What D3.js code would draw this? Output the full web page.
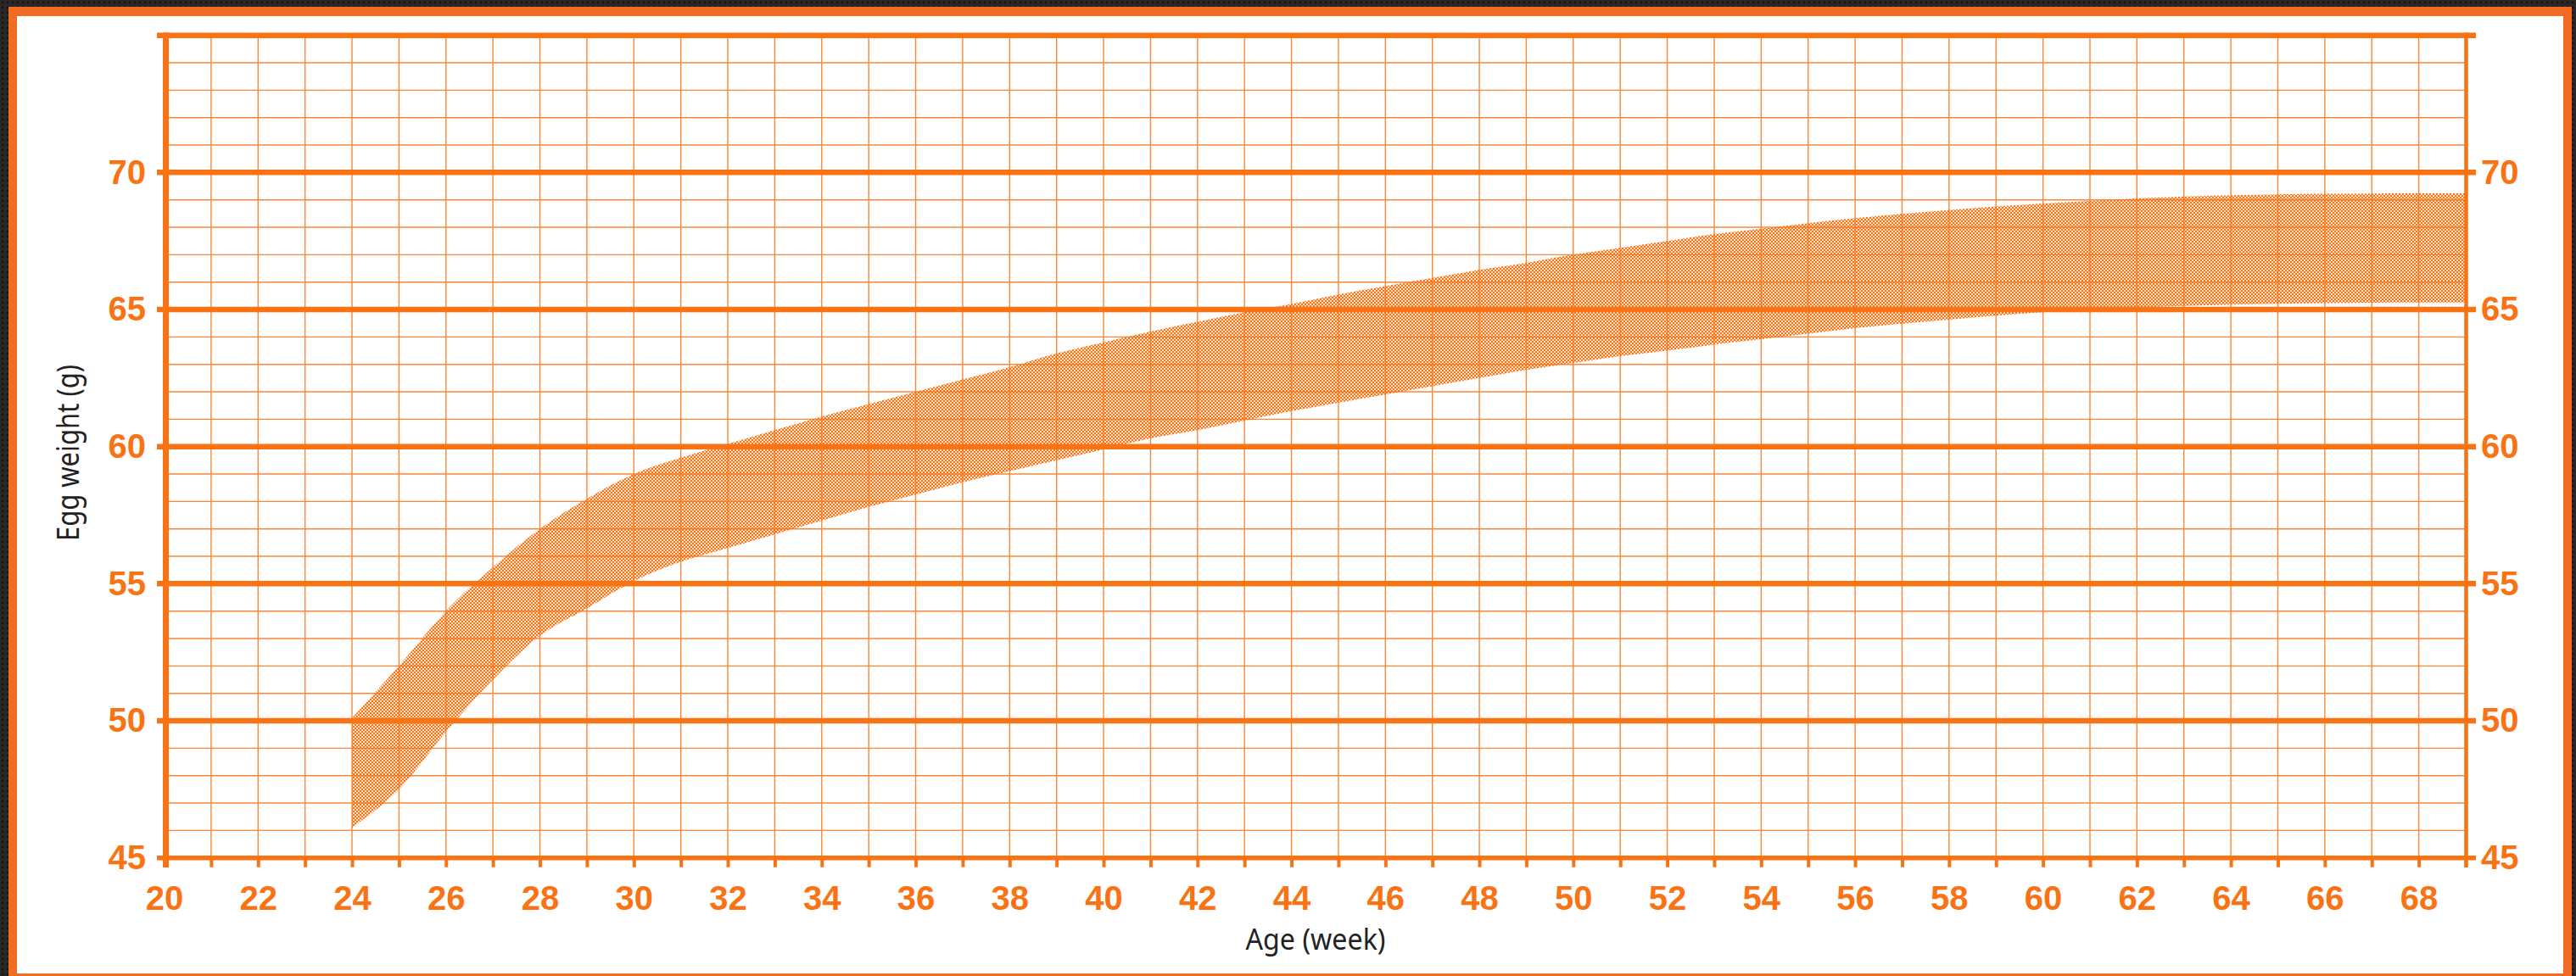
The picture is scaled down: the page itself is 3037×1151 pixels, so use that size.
<!DOCTYPE html>
<html>
<head>
<meta charset="utf-8">
<script src="https://cdn.jsdelivr.net/npm/d3@7"></script>
<style>
	body { margin: 0; background: #262321; }
	svg { display: block; }
</style>
</head>
<body>
<div id="chart"></div>
<script>
// Age in weeks and the egg weight band (g)
const weeks = [24, 25, 26, 27, 28, 29, 30, 31, 32, 33, 34, 35, 36, 37, 38, 39, 40, 41, 42, 43, 44, 45, 46,
	47, 48, 49, 50, 51, 52, 53, 54, 55, 56, 57, 58, 59, 60, 61, 62, 63, 64, 65, 66, 67, 68, 69];
const upperWeight = [50.1, 52.0, 54.0, 55.6, 57.0, 58.1, 59.0, 59.6, 60.1, 60.6, 61.1, 61.55, 62.0, 62.45, 62.9,
	63.4, 63.8, 64.2, 64.55, 64.9, 65.2, 65.55, 65.85, 66.15, 66.45, 66.7, 67.0, 67.25, 67.5, 67.75, 67.95,
	68.15, 68.33, 68.49, 68.63, 68.76, 68.87, 68.96, 69.05, 69.12, 69.17, 69.2, 69.22, 69.23, 69.24, 69.24];
const lowerWeight = [46.1, 47.5, 49.6, 51.5, 53.1, 54.1, 55.1, 55.8, 56.3, 56.8, 57.3, 57.8, 58.25, 58.7, 59.1,
	59.5, 59.9, 60.3, 60.6, 60.95, 61.3, 61.6, 61.9, 62.2, 62.5, 62.8, 63.05, 63.3, 63.5, 63.72, 63.92,
	64.12, 64.32, 64.48, 64.63, 64.78, 64.9, 65.0, 65.07, 65.13, 65.18, 65.21, 65.23, 65.25, 65.26, 65.26];

// Axis ticks
const xTickWeeks = d3.range(20, 70);          // a tick for every week
const xLabelWeeks = d3.range(20, 70, 2);      // labels on even weeks
const yMajor = [45, 50, 55, 60, 65, 70, 75];
const yLabels = [45, 50, 55, 60, 65, 70];
const yMinor = d3.range(46, 75).filter(v => v % 5 !== 0);

const ORANGE = "#f97314";
const FRAME = "#f36b21";
const W = 3037, H = 1151;

function drawChart() {
	const svg = d3.select("#chart")
		.append("svg")
		.attr("width", W)
		.attr("height", H);

	const defs = svg.append("defs");

	// dotted dark backdrop
	const bg = defs.append("pattern")
		.attr("id", "dots")
		.attr("patternUnits", "userSpaceOnUse")
		.attr("width", 6).attr("height", 6);
	bg.append("rect").attr("width", 6).attr("height", 6).attr("fill", "#2b2725");
	bg.append("circle").attr("cx", 3).attr("cy", 3).attr("r", 1.4).attr("fill", "#141312");

	// checkerboard hatch for the band
	const hatch = defs.append("pattern")
		.attr("id", "hatch")
		.attr("patternUnits", "userSpaceOnUse")
		.attr("width", 4).attr("height", 4);
	hatch.append("rect").attr("width", 4).attr("height", 4).attr("fill", ORANGE).attr("opacity", 0.22);
	hatch.append("rect").attr("x", 0).attr("y", 0).attr("width", 2).attr("height", 2).attr("fill", ORANGE);
	hatch.append("rect").attr("x", 2).attr("y", 2).attr("width", 2).attr("height", 2).attr("fill", ORANGE);

	svg.append("rect").attr("width", W).attr("height", H).attr("fill", "url(#dots)");
	svg.append("rect").attr("x", 10).attr("y", 8).attr("width", 3022).attr("height", H).attr("fill", FRAME);
	svg.append("rect").attr("x", 20).attr("y", 19).attr("width", 3002).attr("height", 1129).attr("fill", "white");

	const x = d3.scaleLinear().domain([20, 69]).range([193.5, 2907]);
	const y = d3.scaleLinear().domain([45, 75]).range([1011.7, 41.7]);

	// Band between upper and lower weight
	const band = weeks.map((w, i) => ({ w: w, hi: upperWeight[i], lo: lowerWeight[i] }));
	const area = d3.area()
		.x(d => x(d.w))
		.y0(d => y(d.lo))
		.y1(d => y(d.hi))
		.curve(d3.curveMonotoneX);

	svg.append("path")
		.datum(band)
		.attr("d", area)
		.attr("fill", "url(#hatch)");

	// minor grid
	const grid = svg.append("g").attr("stroke", ORANGE).attr("stroke-width", 1.4).attr("opacity", 0.85);
	grid.selectAll("line.vgrid")
		.data(xTickWeeks.filter(w => w > 20))
		.enter()
		.append("line")
		.attr("class", "vgrid")
		.attr("x1", d => x(d)).attr("x2", d => x(d))
		.attr("y1", y(75)).attr("y2", y(45));
	grid.selectAll("line.hgrid")
		.data(yMinor)
		.enter()
		.append("line")
		.attr("class", "hgrid")
		.attr("x1", x(20)).attr("x2", x(69))
		.attr("y1", d => y(d)).attr("y2", d => y(d));

	// x axis: ticks below the bottom line, labels on even weeks
	const xAxis = d3.axisBottom(x)
		.tickValues(xTickWeeks)
		.tickSize(11)
		.tickFormat(d => xLabelWeeks.includes(d) ? d : "");

	const xg = svg.append("g")
		.attr("transform", `translate(0,${y(45)})`)
		.call(xAxis);
	xg.select(".domain").remove();
	xg.selectAll(".tick line").attr("stroke", ORANGE).attr("stroke-width", 4).attr("y1", 0);
	xg.selectAll(".tick text")
		.attr("y", 61)
		.attr("dy", 0)
		.attr("fill", ORANGE)
		.style("font-family", "'Liberation Sans', Arial, sans-serif")
		.style("font-weight", "bold")
		.style("font-size", "40px");

	// thick lines every 5 g, with stubs past the side axes
	svg.selectAll("line.major")
		.data(yMajor)
		.enter()
		.append("line")
		.attr("class", "major")
		.attr("x1", 185).attr("x2", 2919)
		.attr("y1", d => y(d)).attr("y2", d => y(d))
		.attr("stroke", ORANGE)
		.attr("stroke-width", d => d === 45 ? 5.5 : 6.5);

	// side axes
	svg.append("line")
		.attr("x1", 195.5).attr("x2", 195.5).attr("y1", 38.5).attr("y2", 1023)
		.attr("stroke", ORANGE).attr("stroke-width", 7);
	svg.append("line")
		.attr("x1", x(69) + 0.5).attr("x2", x(69) + 0.5).attr("y1", 38.5).attr("y2", 1023)
		.attr("stroke", ORANGE).attr("stroke-width", 4.5);

	const labelStyle = sel => sel.selectAll("text")
		.attr("fill", ORANGE)
		.style("font-family", "'Liberation Sans', Arial, sans-serif")
		.style("font-weight", "bold")
		.style("font-size", "40px");

	const yl = svg.append("g")
		.attr("transform", `translate(${x(20)},0)`)
		.call(d3.axisLeft(y).tickValues(yLabels).tickSize(0).tickPadding(21.5));
	yl.select(".domain").remove();
	labelStyle(yl);

	const yr = svg.append("g")
		.attr("transform", `translate(${x(69)},0)`)
		.call(d3.axisRight(y).tickValues(yLabels).tickSize(0).tickPadding(18));
	yr.select(".domain").remove();
	labelStyle(yr);

	// axis titles
	svg.append("text")
		.attr("x", 1551)
		.attr("y", 1120)
		.attr("text-anchor", "middle")
		.attr("fill", "#222")
		.attr("textLength", 165)
		.attr("lengthAdjust", "spacingAndGlyphs")
		.style("font-family", "'Noto Sans', 'Open Sans', sans-serif")
		.style("font-size", "35px")
		.text("Age (week)");

	svg.append("text")
		.attr("transform", "translate(93,534) rotate(-90)")
		.attr("text-anchor", "middle")
		.attr("fill", "#222")
		.attr("textLength", 208)
		.attr("lengthAdjust", "spacingAndGlyphs")
		.style("font-family", "'Noto Sans', 'Open Sans', sans-serif")
		.style("font-size", "36px")
		.text("Egg weight (g)");
}

document.addEventListener('DOMContentLoaded', drawChart);
</script>
</body>
</html>
